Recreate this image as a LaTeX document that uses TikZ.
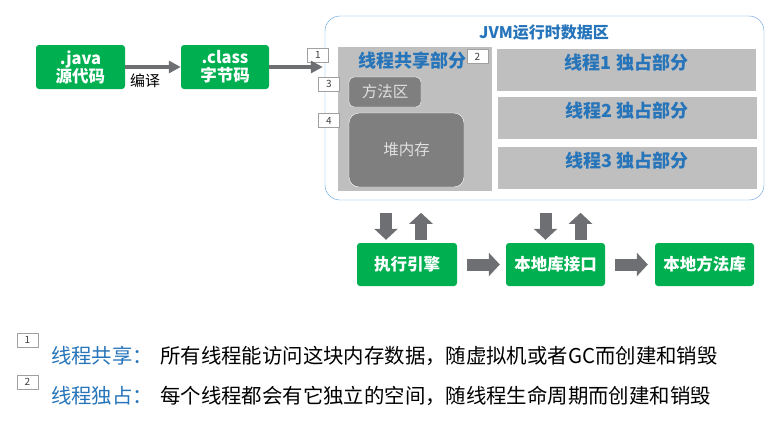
\documentclass[tikz,border=0pt]{standalone}
\usepackage{fontspec}
\setmainfont{Noto Sans CJK SC}
\usetikzlibrary{arrows.meta,calc}
\definecolor{codegreen}{RGB}{0,176,80}
\definecolor{jvmblue}{RGB}{38,116,186}
\definecolor{jvmborder}{RGB}{91,155,213}
\definecolor{sharedgray}{RGB}{191,191,191}
\definecolor{areagray}{RGB}{127,127,127}
\definecolor{arrowgray}{RGB}{110,111,115}
\definecolor{taggray}{RGB}{160,160,160}
\definecolor{tagtext}{RGB}{64,64,64}

\begin{document}
\begin{tikzpicture}[x=1pt,y=-1pt,
  greenbox/.style={fill=codegreen,rounded corners=3pt,text=white,font=\fontsize{16.5pt}{18pt}\selectfont\bfseries,align=center,minimum width=89pt,minimum height=44pt,inner sep=0pt},
  areabox/.style={draw=white,fill=areagray,text=white!88!black,font=\fontsize{15.5pt}{18pt}\selectfont,inner sep=0pt},
  threadbox/.style={fill=sharedgray,minimum width=259pt,minimum height=42pt,inner sep=0pt,label={[anchor=north,inner sep=2pt,yshift=-3pt,text=jvmblue,font=\fontsize{18pt}{20pt}\selectfont\bfseries]north:#1}},
  tag/.style={draw=taggray,fill=white,text=tagtext,font=\fontsize{10pt}{10pt}\selectfont,minimum width=21pt,minimum height=14pt,inner sep=0pt},
  thinarrow/.style={draw=arrowgray,line width=4pt,-{Triangle[width=12pt,length=12pt]}},
  blockarrow/.style={draw=arrowgray,line width=12pt,-{Triangle[width=23pt,length=11pt]}}]
\useasboundingbox (0,0) rectangle (772,421);

\node[greenbox] (java) at (80.5,67) {.java\\源代码};
\node[greenbox,minimum width=88pt] (class) at (225,67) {.class\\字节码};
\node[font=\fontsize{15pt}{17pt}\selectfont] (compile) at (145,81) {编译};

\node[draw=jvmborder,rounded corners=15pt,minimum width=439pt,minimum height=184pt,inner sep=0pt] (jvm) at (544.5,108) {};
\node[text=jvmblue,font=\fontsize{16pt}{18pt}\selectfont\bfseries] (jvmtitle) at (544,33) {JVM运行时数据区};
\node[fill=sharedgray,minimum width=154pt,minimum height=144pt,inner sep=0pt] (shared) at (415,119) {};
\node[text=jvmblue,font=\fontsize{18pt}{20pt}\selectfont\bfseries] (sharedtitle) at (412.5,61) {线程共享部分};
\node[areabox,rounded corners=5pt,minimum width=72pt,minimum height=30pt] (method) at (385,92) {方法区};
\node[areabox,rounded corners=10pt,minimum width=115pt,minimum height=74pt] (heap) at (406.5,150) {堆内存};
\node[threadbox={线程1 独占部分}] (thread1) at (626.5,70) {};
\node[threadbox={线程2 独占部分}] (thread2) at (627,117.5) {};
\node[threadbox={线程3 独占部分}] (thread3) at (627,167.5) {};

\node[tag] (tag1) at (318,55) {1};
\node[tag] (tag2) at (477.5,56.5) {2};
\node[tag] (tag3) at (329,84) {3};
\node[tag] (tag4) at (329,120.5) {4};

\node[greenbox,minimum width=100pt,minimum height=43pt] (exec) at (407,264.5) {执行引擎};
\node[greenbox,minimum width=99pt,minimum height=43pt] (native) at (555.5,264.5) {本地库接口};
\node[greenbox,minimum width=99pt,minimum height=43pt] (nativelib) at (704.5,264.5) {本地方法库};

\draw[thinarrow] (java) -- (class);
\draw[thinarrow,shorten >=2pt] (class.east) -- (class.east -| jvm.west);
\draw[blockarrow,shorten <=10pt,shorten >=6pt] (exec) -- (native);
\draw[blockarrow,shorten <=10pt,shorten >=7pt] (native) -- (nativelib);
\draw[blockarrow] ($(exec.north)+(-21,-30)$) -- ($(exec.north)+(-21,-3)$);
\draw[blockarrow] ($(exec.north)+(14,-3)$) -- ($(exec.north)+(14,-30)$);
\draw[blockarrow] ($(native.north)+(-10,-30)$) -- ($(native.north)+(-10,-3)$);
\draw[blockarrow] ($(native.north)+(25,-3)$) -- ($(native.north)+(25,-30)$);

\node[tag] (note1) at (27.5,340) {1};
\node[tag] (note2) at (27.5,382) {2};
\node[anchor=west,inner sep=0pt,text=jvmblue,font=\fontsize{20.4pt}{24pt}\selectfont] (sharedkey) at (51,356) {线程共享：};
\node[anchor=west,inner sep=0pt,font=\fontsize{20.4pt}{24pt}\selectfont] (shareddesc) at (160,356) {所有线程能访问这块内存数据，随虚拟机或者GC而创建和销毁};
\node[anchor=west,inner sep=0pt,text=jvmblue,font=\fontsize{20.4pt}{24pt}\selectfont] (ownkey) at (51,396) {线程独占：};
\node[anchor=west,inner sep=0pt,font=\fontsize{20.4pt}{24pt}\selectfont] (owndesc) at (160,396) {每个线程都会有它独立的空间，随线程生命周期而创建和销毁};
\end{tikzpicture}
\end{document}
